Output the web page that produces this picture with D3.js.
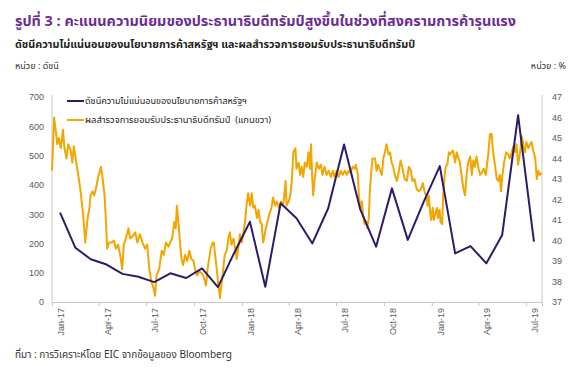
<!DOCTYPE html>
<html><head><meta charset="utf-8">
<script src="https://cdn.jsdelivr.net/npm/d3@7/dist/d3.min.js"></script>
<style>
body{margin:0;background:#fff;}
svg text{font-family:"Liberation Sans",Arial,"Noto Sans",sans-serif;}
.th{font-family:"Noto Sans Thai","Loma","Tahoma","Liberation Sans","DejaVu Sans",sans-serif;}
</style></head>
<body>
<svg id="c" width="587" height="374"></svg>
<script>
// ---- data ----
const titleText = "รูปที่ 3 : คะแนนความนิยมของประธานาธิบดีทรัมป์สูงขึ้นในช่วงที่สงครามการค้ารุนแรง";
const subtitleText = "ดัชนีความไม่แน่นอนของนโยบายการค้าสหรัฐฯ และผลสำรวจการยอมรับประธานาธิบดีทรัมป์";
const leftUnit = "หน่วย : ดัชนี";
const rightUnit = "หน่วย : %";
const sourceText = "ที่มา : การวิเคราะห์โดย EIC จากข้อมูลของ Bloomberg";
const seriesNames = ["ดัชนีความไม่แน่นอนของนโยบายการค้าสหรัฐฯ", "ผลสำรวจการยอมรับประธานาธิบดีทรัมป์\u00a0\u00a0(แกนขวา)"];

// monthly index (left axis), Jan-17 .. Jul-19
const uncertaintyMonths = ["2017-01","2017-02","2017-03","2017-04","2017-05","2017-06","2017-07","2017-08","2017-09","2017-10","2017-11","2017-12",
  "2018-01","2018-02","2018-03","2018-04","2018-05","2018-06","2018-07","2018-08","2018-09","2018-10","2018-11","2018-12",
  "2019-01","2019-02","2019-03","2019-04","2019-05","2019-06","2019-07"];
const uncertaintyIndex = [305,185,146,128,96,86,68,98,82,115,51,165,
  274,52,337,286,200,320,538,317,189,388,212,342,
  464,166,191,132,229,638,206];

// daily approval poll (right axis): days since 2017-01-01 and percent
const approvalDay = [0,4,8,10,13,17,21,24,28,31,36,39,42,46,51,55,60,64,68,72,74,78,81,85,89,94,97,101,104,106,110,115,119,123,127,131,135,138,142,147,150,155,
  160,164,169,174,179,183,187,191,195,198,201,206,211,215,219,224,227,231,235,238,240,244,246,249,252,256,260,264,268,272,275,279,283,288,292,296,299,302,305,309,311,
  315,319,323,325,328,332,336,339,342,345,349,352,355,358,361,365,368,371,374,377,381,384,387,390,394,397,400,403,406,409,411,414,418,422,425,429,432,436,440,444,446,449,451,455,458,
  461,464,468,470,474,477,480,483,486,490,493,496,498,500,502,505,509,513,517,520,524,528,532,536,540,543,547,551,555,559,563,567,570,574,578,582,584,588,590,593,596,598,601,604,606,609,611,614,616,
  621,624,627,631,634,637,640,643,647,650,653,656,659,663,667,670,674,678,682,686,690,693,697,701,705,709,713,716,719,722,724,727,729,732,734,737,740,742,745,747,750,752,755,757,760,763,765,768,771,775,778,
  784,791,794,797,800,804,807,810,813,816,820,823,826,830,834,839,842,845,848,852,855,858,861,863,866,869,873,877,880,884,887,890,893,896,900,903,906,909,912,916,919,922,925,929,932,935,938,941];
const approvalPct = [43.4,46.0,45.2,44.7,45.0,44.5,45.4,44.5,44.0,44.7,44.4,43.8,44.6,43.9,43.1,42.4,41.2,39.9,41.0,41.6,42.2,42.4,42.2,42.6,43.1,43.6,43.1,42.2,40.8,39.6,39.9,39.9,40.0,39.6,39.8,39.3,38.6,39.8,40.1,40.6,40.1,40.2,
  40.4,39.9,40.3,39.9,39.6,39.8,38.6,38.0,37.7,37.3,38.3,38.6,39.5,39.3,39.9,39.7,39.9,40.1,40.9,40.6,41.7,40.6,39.9,39.1,38.8,39.3,39.0,39.5,39.1,39.0,38.6,38.3,38.5,38.4,38.2,37.8,38.6,39.1,39.6,39.9,39.9,
  39.0,38.0,37.2,37.7,38.3,39.3,39.5,40.1,40.4,39.8,40.1,39.6,39.1,39.6,40.3,39.9,40.4,40.9,41.7,42.3,41.7,42.3,41.6,41.7,41.1,41.5,40.9,40.8,39.9,40.3,40.6,40.9,41.3,41.6,42.1,41.7,41.9,41.6,41.9,41.7,42.1,42.9,41.7,41.9,42.2,
  42.9,44.3,44.5,43.5,43.8,43.2,43.6,43.1,43.8,43.6,44.3,43.5,44.7,43.2,42.2,43.0,43.8,43.5,43.7,43.2,43.6,43.2,43.4,43.1,43.4,43.1,43.4,43.1,43.4,43.2,43.4,43.2,43.4,43.3,43.6,43.5,43.7,43.2,42.2,41.6,41.9,41.2,40.8,40.9,40.6,41.1,42.4,43.4,44.0,
  44.0,43.4,43.7,43.4,43.2,44.0,44.3,44.7,44.2,44.3,43.8,43.6,43.2,42.9,43.4,43.9,43.5,43.0,42.9,43.6,43.4,42.9,43.0,42.5,42.4,42.5,42.8,42.4,42.2,41.7,42.2,41.4,41.0,41.6,41.0,41.3,41.6,41.1,41.5,40.9,40.8,42.2,43.2,43.6,43.7,44.3,44.2,44.3,44.4,43.8,44.3,
  43.8,42.5,42.2,43.2,43.8,44.1,43.2,43.9,43.6,44.1,43.5,43.2,43.3,43.5,43.2,44.3,45.2,45.2,44.3,43.6,43.0,42.9,43.2,42.4,43.2,43.8,44.3,44.2,44.0,44.3,44.6,44.3,44.7,43.7,44.3,45.1,44.7,44.3,44.8,44.5,44.7,44.8,44.4,44.0,43.0,43.4,43.2,43.3];

const leftTicks = [0,100,200,300,400,500,600,700];
const rightTicks = [37,38,39,40,41,42,43,44,45,46,47];
const xTickMonths = ["2017-01","2017-04","2017-07","2017-10","2018-01","2018-04","2018-07","2018-10","2019-01","2019-04","2019-07"];

// ---- chart ----
const svg = d3.select("#c");
const purple = "#2d1b69", orange = "#f3a600", grid = "#c8c8c8", tickTxt = "#595959";
const parseM = d3.timeParse("%Y-%m");
const fmtM = d3.timeFormat("%b-%y");
const start = new Date(2017,0,1), end = new Date(2019,7,1);
const L = 52, R = 542, T = 97, B = 302;

const x = d3.scaleTime().domain([start, end]).range([L, R]);
const yL = d3.scaleLinear().domain([0,700]).range([B, T]);
const yR = d3.scaleLinear().domain([37,47]).range([B, T]);
const midMonth = d => { const s = parseM(d); const e = d3.timeMonth.offset(s,1); return new Date((+s + +e)/2); };

// titles
svg.append("text").attr("class","th").attr("x",15).attr("y",26).attr("font-size",14.4).attr("font-weight","bold").attr("fill","#6b2d91").text(titleText);
svg.append("text").attr("class","th").attr("x",15).attr("y",48).attr("font-size",10.8).attr("font-weight","bold").attr("fill","#222").text(subtitleText);
svg.append("text").attr("class","th").attr("x",15).attr("y",69).attr("font-size",9).attr("fill","#333").text(leftUnit);
svg.append("text").attr("class","th").attr("x",566).attr("y",69).attr("text-anchor","end").attr("font-size",9).attr("fill","#333").text(rightUnit);
svg.append("text").attr("class","th").attr("x",15).attr("y",358).attr("font-size",10).attr("fill","#333").text(sourceText);

// axis lines
svg.append("line").attr("x1",L).attr("x2",L).attr("y1",T-2).attr("y2",B).attr("stroke",grid);
svg.append("line").attr("x1",R).attr("x2",R).attr("y1",T-2).attr("y2",B).attr("stroke",grid);

// left axis
const gl = svg.append("g").attr("transform",`translate(${L},0)`)
  .call(d3.axisLeft(yL).tickValues(leftTicks).tickSize(0).tickPadding(8));
gl.select(".domain").remove();
gl.selectAll("text").attr("fill",tickTxt).attr("font-size",9).attr("font-family","Liberation Sans, Arial, sans-serif");

// right axis
const gr = svg.append("g").attr("transform",`translate(${R},0)`)
  .call(d3.axisRight(yR).tickValues(rightTicks).tickSize(0).tickPadding(10));
gr.select(".domain").remove();
gr.selectAll("text").attr("fill",tickTxt).attr("font-size",9).attr("font-family","Liberation Sans, Arial, sans-serif");

// bottom axis: ticks at quarter starts, labels at mid-month
const gb = svg.append("g").attr("transform",`translate(0,${B})`)
  .call(d3.axisBottom(x).tickValues(xTickMonths.map(parseM)).tickSize(4).tickFormat(""));
gb.select(".domain").attr("stroke",grid);
gb.selectAll(".tick line").attr("stroke",grid);
svg.append("g").selectAll("text").data(xTickMonths).join("text")
  .attr("transform", d => `translate(${x(midMonth(d))+1},${B+6}) rotate(-90)`)
  .attr("text-anchor","end").attr("dy","0.35em")
  .attr("font-size",9).attr("fill",tickTxt)
  .text(d => fmtM(parseM(d)));

// orange approval line
const approval = approvalDay.map((d,i) => ({date: d3.timeDay.offset(start, d), v: approvalPct[i]}));
svg.append("path").datum(approval)
  .attr("fill","none").attr("stroke",orange).attr("stroke-width",2).attr("stroke-linejoin","round")
  .attr("d", d3.line().x(d => x(d.date)).y(d => yR(d.v)));

// purple index line
const unc = uncertaintyMonths.map((m,i) => ({date: midMonth(m), v: uncertaintyIndex[i]}));
svg.append("path").datum(unc)
  .attr("fill","none").attr("stroke",purple).attr("stroke-width",2).attr("stroke-linejoin","round")
  .attr("d", d3.line().x(d => x(d.date)).y(d => yL(d.v)));

// legend
const lg = svg.append("g");
const legendLen = [162, 186];
[purple, orange].forEach((c,i) => {
  const yy = 101 + i*19;
  lg.append("line").attr("x1",67).attr("x2",84).attr("y1",yy).attr("y2",yy).attr("stroke",c).attr("stroke-width",2);
  lg.append("text").attr("class","th").attr("x",85).attr("y",yy).attr("dy","0.35em").attr("font-size",9)
    .attr("textLength",legendLen[i]).attr("lengthAdjust","spacingAndGlyphs").attr("fill","#222").text(seriesNames[i]);
});
</script>
</body></html>
